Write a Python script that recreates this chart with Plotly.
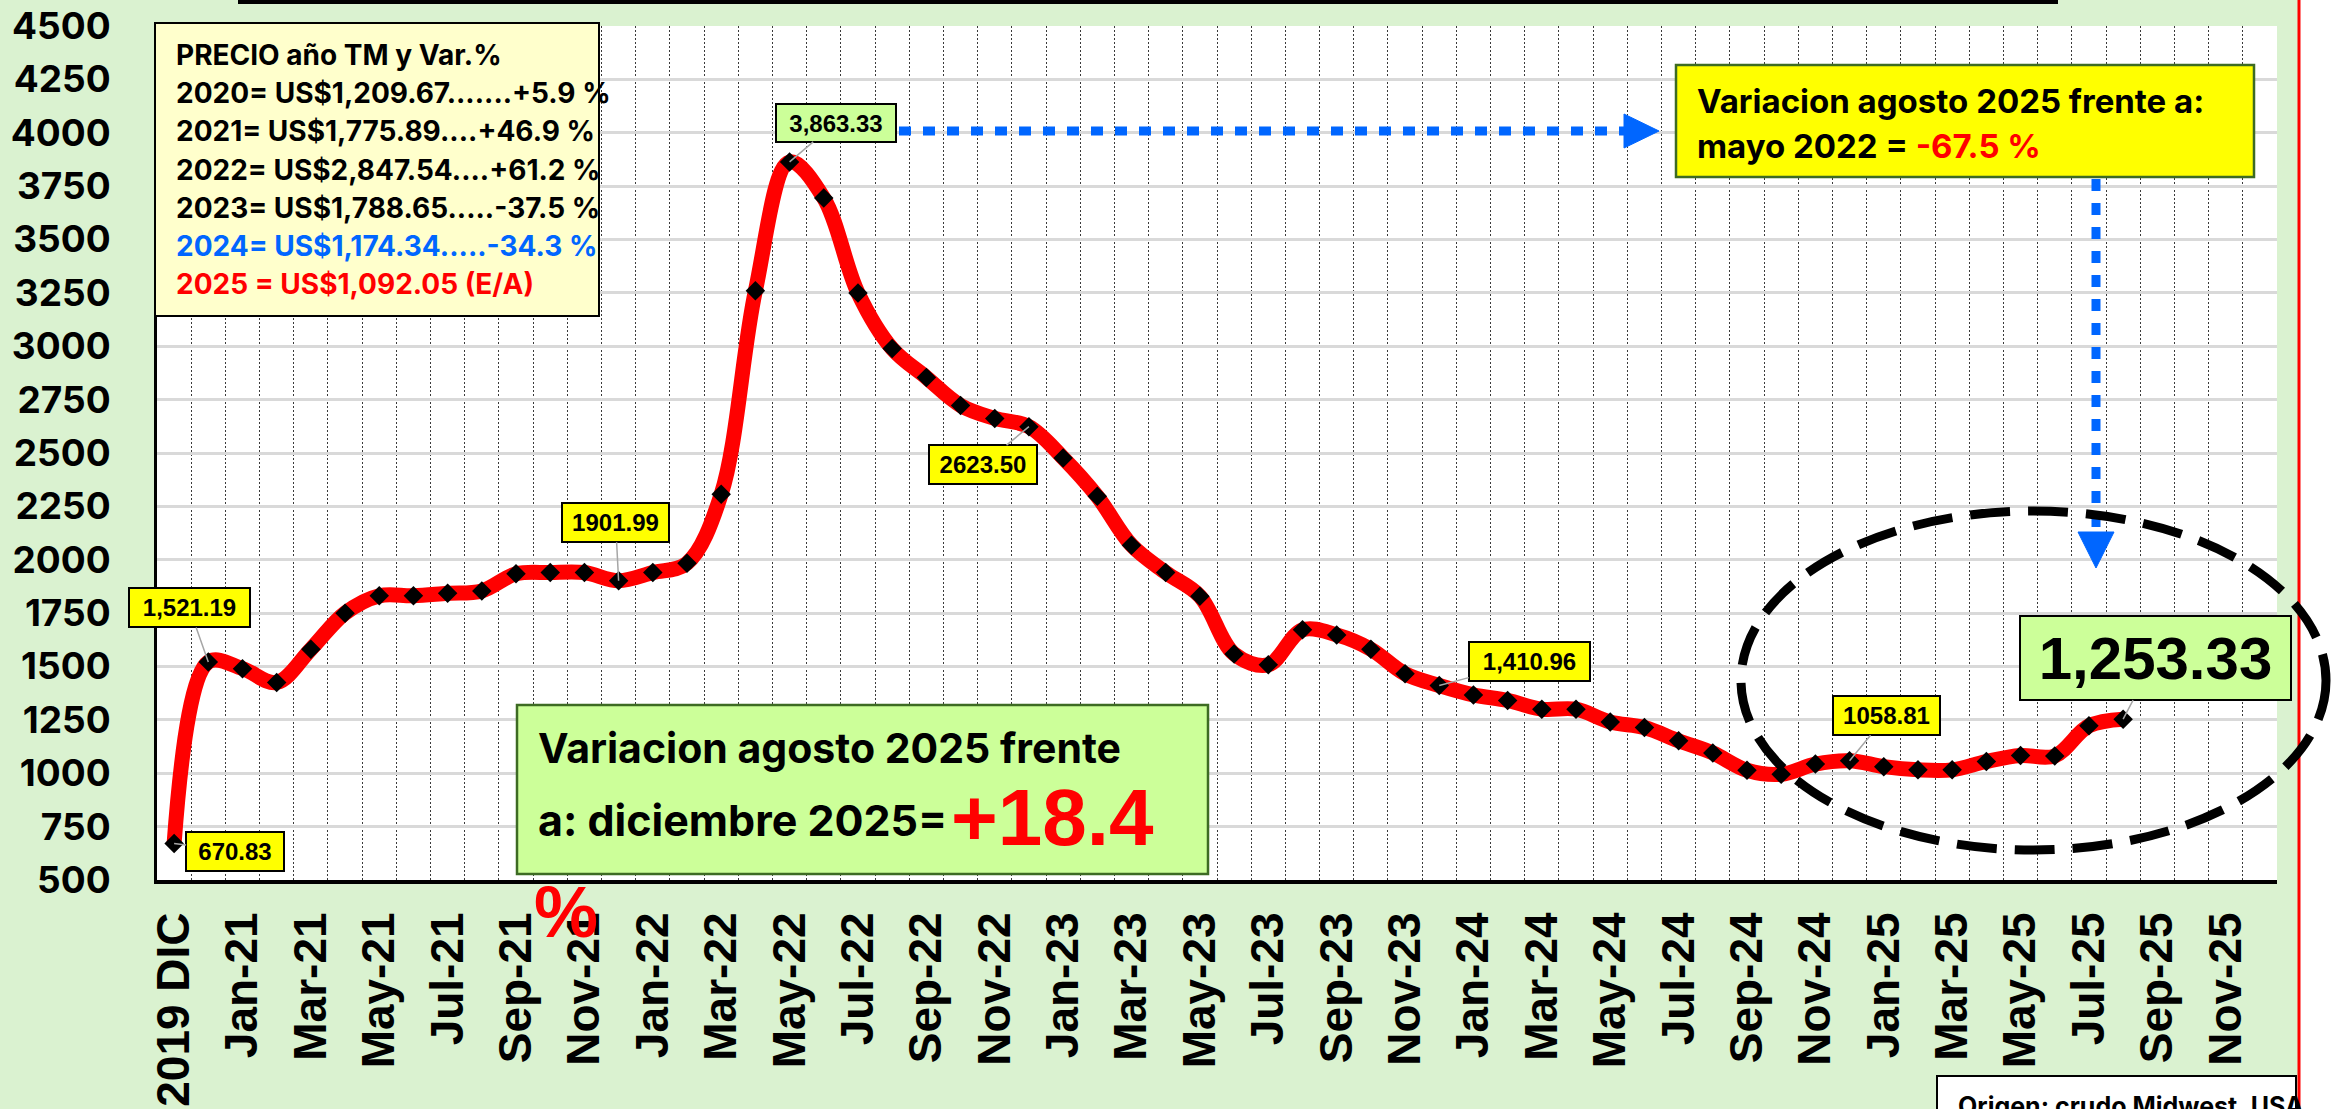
import plotly.graph_objects as go

# ---------------- data ----------------
months = ["2019 DIC", "Dec-20",
          "Jan-21", "Feb-21", "Mar-21", "Apr-21", "May-21", "Jun-21", "Jul-21", "Aug-21", "Sep-21", "Oct-21", "Nov-21", "Dec-21",
          "Jan-22", "Feb-22", "Mar-22", "Apr-22", "May-22", "Jun-22", "Jul-22", "Aug-22", "Sep-22", "Oct-22", "Nov-22", "Dec-22",
          "Jan-23", "Feb-23", "Mar-23", "Apr-23", "May-23", "Jun-23", "Jul-23", "Aug-23", "Sep-23", "Oct-23", "Nov-23", "Dec-23",
          "Jan-24", "Feb-24", "Mar-24", "Apr-24", "May-24", "Jun-24", "Jul-24", "Aug-24", "Sep-24", "Oct-24", "Nov-24", "Dec-24",
          "Jan-25", "Feb-25", "Mar-25", "Apr-25", "May-25", "Jun-25", "Jul-25", "Aug-25", "Sep-25", "Oct-25", "Nov-25", "Dec-25"]

prices = [670.83, 1521.19, 1490, 1425, 1581, 1750, 1831, 1831, 1843, 1854,
          1934, 1940, 1940, 1901.99, 1940, 1984, 2307, 3260, 3863.33, 3694,
          3250, 2989, 2854, 2723, 2662, 2623.50, 2477, 2297, 2068, 1940,
          1829, 1559, 1508, 1672, 1648, 1581, 1466, 1410.96, 1367, 1341,
          1300, 1300, 1240, 1214, 1152, 1095, 1014, 995, 1043, 1058.81,
          1031, 1016, 1016, 1055, 1083, 1081, 1222, 1253.33]

y_ticks = [500, 750, 1000, 1250, 1500, 1750, 2000, 2250, 2500, 2750,
           3000, 3250, 3500, 3750, 4000, 4250, 4500]

label_idx = [0, 1, 13, 18, 25, 37, 49, 57]
label_comma = [False, True, False, True, False, True, False, True]

legend_title = "PRECIO año TM y Var.%"
legend_lines = ["2020= US$1,209.67.......+5.9 %",
                "2021= US$1,775.89....+46.9 %",
                "2022= US$2,847.54....+61.2 %",
                "2023= US$1,788.65.....-37.5 %",
                "2024= US$1,174.34.....-34.3 %",
                "2025 = US$1,092.05 (E/A)"]
legend_colors = ["black", "black", "black", "black", "#0066FF", "#FF0000"]

# ---------------- geometry helpers (page pixels -> paper) ----------------
FW, FH = 2338, 1109
L, R, T, B = 157, 2277, 26, 880   # plot area in page pixels
W, H = R - L, B - T


def xp(X):
    return (X - L) / W


def yp(Y):
    return (B - Y) / H


INTER = "Inter, Lato, Liberation Sans, sans-serif"
ARIAL = "Liberation Sans, Arial, sans-serif"
BG = "#DAF2D0"

x_idx = list(range(len(prices)))

fig = go.Figure()
fig.add_trace(go.Scatter(
    x=x_idx, y=prices, mode="lines+markers",
    line=dict(color="#FF0000", width=15, shape="spline", smoothing=1.0),
    marker=dict(symbol="diamond", size=15, color="black", line=dict(width=0)),
    hoverinfo="x+y", showlegend=False))

shapes = []
annotations = []


def rect(x0, y0, x1, y1, fill, line_color, lw=2.0):
    shapes.append(dict(type="rect", xref="paper", yref="paper",
                       x0=xp(x0), x1=xp(x1), y0=yp(y1), y1=yp(y0),
                       fillcolor=fill, line=dict(color=line_color, width=lw),
                       layer="above"))


def text(X, Y, s, size, color="black", family=INTER, xanchor="left", weight=700):
    annotations.append(dict(xref="paper", yref="paper", x=xp(X), y=yp(Y),
                            xanchor=xanchor, yanchor="middle", text=s, showarrow=False,
                            font=dict(family=family, size=size, color=color, weight=weight)))


# white strip right of the red border, red border, top black bar
shapes.append(dict(type="rect", xref="paper", yref="paper", x0=xp(2300), x1=xp(FW + 20),
                   y0=yp(FH + 20), y1=yp(-20), fillcolor="white", line=dict(width=0), layer="below"))
shapes.append(dict(type="line", xref="paper", yref="paper", x0=xp(2299), x1=xp(2299),
                   y0=yp(FH + 20), y1=yp(-20), line=dict(color="#FF0000", width=3), layer="above"))
shapes.append(dict(type="line", xref="paper", yref="paper", x0=xp(238), x1=xp(2058),
                   y0=yp(2), y1=yp(2), line=dict(color="black", width=4), layer="above"))

# legend box
rect(155, 23, 599, 316, "#FFFFCC", "black", 2)
text(174, 55, legend_title, 28)
for i, (ln, c) in enumerate(zip(legend_lines, legend_colors)):
    text(174, 93 + i * 38.3, ln, 28, c)

# green variation box
rect(517, 705, 1208, 874, "#CCFF99", "#3D6B23", 2.5)
text(536, 748, "Variacion agosto 2025 frente", 41)
text(536, 820, "a: diciembre 2025=", 43)
text(949, 817, "+18.4", 80, "#FF0000", family=ARIAL)
text(566, 912, "%", 72, "#FF0000", family=ARIAL, xanchor="center")

# yellow variation box (top right)
rect(1676, 65, 2254, 177, "#FFFF00", "#3D6B23", 2.5)
text(1695, 101, "Variacion agosto 2025 frente a:", 33)
text(1695, 146, "mayo 2022 = <span style='color:#FF0000'>-67.5 %</span>", 33)

# blue dotted arrows
blue = "#0066FF"
shapes.append(dict(type="line", xref="paper", yref="paper", x0=xp(899), x1=xp(1626),
                   y0=yp(131), y1=yp(131), line=dict(color=blue, width=9, dash="12px,12px"), layer="above"))
shapes.append(dict(type="path", xref="paper", yref="paper",
                   path=f"M {xp(1624)} {yp(114)} L {xp(1624)} {yp(148)} L {xp(1659)} {yp(131)} Z",
                   fillcolor=blue, line=dict(color=blue, width=1), layer="above"))
shapes.append(dict(type="line", xref="paper", yref="paper", x0=xp(2096), x1=xp(2096),
                   y0=yp(179), y1=yp(533), line=dict(color=blue, width=9, dash="12px,12px"), layer="above"))
shapes.append(dict(type="path", xref="paper", yref="paper",
                   path=f"M {xp(2078)} {yp(532)} L {xp(2114)} {yp(532)} L {xp(2096)} {yp(568)} Z",
                   fillcolor=blue, line=dict(color=blue, width=1), layer="above"))

# dashed ellipse
shapes.append(dict(type="circle", xref="paper", yref="paper", x0=xp(1741), x1=xp(2326),
                   y0=yp(850), y1=yp(511), line=dict(color="black", width=9, dash="40px,18px"),
                   layer="above"))

# source box
rect(1937, 1076, 2296, 1140, "white", "black", 2)
text(1956, 1106, "Origen: crudo Midwest, USA", 25)

# data labels
label_style = {
    0: dict(ax=61, ay=8, w=100, h=41, bg="#FFFF00", size=24),
    1: dict(ax=-19, ay=-54, w=123, h=41, bg="#FFFF00", size=24),
    13: dict(ax=-3, ay=-58, w=109, h=41, bg="#FFFF00", size=24),
    18: dict(ax=46, ay=-39, w=122, h=40, bg="#CCFF99", size=24),
    25: dict(ax=-46, ay=38, w=110, h=41, bg="#FFFF00", size=24),
    37: dict(ax=90, ay=-24, w=123, h=41, bg="#FFFF00", size=24),
    49: dict(ax=37, ay=-45, w=109, h=41, bg="#FFFF00", size=24),
    57: dict(ax=32, ay=-61, w=273, h=86, bg="#CCFF99", size=60),
}
for i, comma in zip(label_idx, label_comma):
    st = label_style[i]
    v = prices[i]
    s = f"{v:,.2f}" if comma else f"{v:.2f}"
    annotations.append(dict(x=x_idx[i], y=v, xref="x", yref="y", text=s,
                            showarrow=True, arrowhead=0, arrowwidth=1.5, arrowcolor="#A6A6A6",
                            ax=st["ax"], ay=st["ay"], standoff=0,
                            bgcolor=st["bg"], bordercolor="black", borderwidth=2, borderpad=0,
                            width=st["w"] - 4, height=st["h"] - 4,
                            font=dict(family=ARIAL, size=st["size"], color="black", weight="bold")))

fig.update_layout(
    width=FW, height=FH,
    margin=dict(l=L, r=FW - R, t=T, b=FH - B, pad=0, autoexpand=False),
    paper_bgcolor=BG, plot_bgcolor="white",
    shapes=shapes, annotations=annotations,
    showlegend=False,
)

fig.update_xaxes(
    range=[-0.5, 61.5], tickmode="array",
    tickvals=x_idx[0::2] + [58, 60],
    ticktext=months[0::2][:29] + [months[58], months[60]],
    tickangle=-90, ticks="", ticklabelstandoff=10, automargin=False,
    ticklabeloverflow="allow",
    tickfont=dict(family=ARIAL, size=46, color="black", weight="bold"),
    showgrid=False, zeroline=False,
    showline=True, linecolor="black", linewidth=4,
    minor=dict(tickmode="array", tickvals=[i + 0.5 for i in range(62)], showgrid=True,
               gridcolor="#3A3A3A", gridwidth=1, griddash="2px,2px", ticks=""),
)

fig.update_yaxes(
    range=[500, 4500], tickmode="array", tickvals=y_ticks,
    ticktext=[str(t) for t in y_ticks], ticks="", ticklabelstandoff=36, automargin=False,
    ticklabeloverflow="allow",
    tickfont=dict(family=INTER, size=37, color="black", weight="bold"),
    showgrid=True, gridcolor="#D9D9D9", gridwidth=2.5, zeroline=False,
    showline=True, linecolor="black", linewidth=3,
)

fig.write_html("out.html", config={"displayModeBar": False},
               post_script="document.body.style.margin='0px';document.body.style.overflow='hidden';")
